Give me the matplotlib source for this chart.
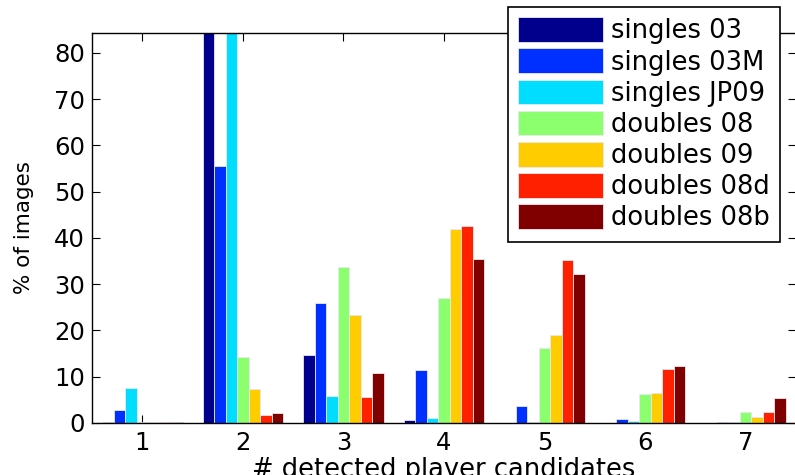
import numpy as np
import matplotlib
matplotlib.use("Agg")
import matplotlib.pyplot as plt

groups = [1, 2, 3, 4, 5, 6, 7]
series_names = ["singles 03", "singles 03M", "singles JP09", "doubles 08",
                "doubles 09", "doubles 08d", "doubles 08b"]
singles_03   = [0.3, 84.5, 14.8, 0.7, 0.1, 0.1, 0.0]
singles_03M  = [2.8, 55.5, 26.0, 11.5, 3.7, 0.9, 0.3]
singles_JP09 = [7.6, 84.5, 5.75, 1.1, 0.3, 0.4, 0.3]
doubles_08   = [0.2, 14.3, 33.8, 27.1, 16.2, 6.2, 2.4]
doubles_09   = [0.2, 7.3, 23.4, 42.0, 19.1, 6.4, 1.4]
doubles_08d  = [0.3, 1.8, 5.7, 42.5, 35.3, 11.7, 2.4]
doubles_08b  = [0.3, 2.1, 10.7, 35.5, 32.1, 12.3, 5.3]
series_values = [singles_03, singles_03M, singles_JP09, doubles_08,
                 doubles_09, doubles_08d, doubles_08b]
colors = ["#00008C", "#0030FF", "#00DDFF", "#8CFF6E", "#FFCC00", "#FF2000", "#800000"]
yticks = [0, 10, 20, 30, 40, 50, 60, 70, 80]

plt.rcParams['font.family'] = ['DejaVu Sans']

fig = plt.figure(figsize=(7.95, 4.75), dpi=100)
ax = fig.add_axes([92/795, 52/475, 704/795, 390/475])

x = np.array(groups, dtype=float)
n = len(series_values)
slot = 0.8 / n
for i, (vals, name, c) in enumerate(zip(series_values, series_names, colors)):
    off = (i - (n - 1) / 2) * slot
    ax.bar(x + off, vals, width=slot, color=c, edgecolor="#e8e8f0",
           linewidth=0.6, label=name, zorder=2)

ax.set_xlim(0.5, 7.5)
ax.set_ylim(0, 84.3)
ax.set_xticks(groups)
ax.set_yticks(yticks)
ax.tick_params(axis='both', which='both', direction='in', length=6, width=0.8,
               top=True, right=True, labelsize=17.5)
ax.tick_params(axis='x', pad=6)
ax.tick_params(axis='y', pad=5)
for s in ax.spines.values():
    s.set_linewidth(1.0)
    s.set_color('black')

ax.set_xlabel("# detected player candidates", fontsize=18.5)
ax.xaxis.set_label_coords(0.5, -0.088)
ax.set_ylabel("% of images", fontsize=15.5)
ax.yaxis.set_label_coords(-0.082, 0.5)

leg = ax.legend(loc='upper right', bbox_to_anchor=(780/795, 1 - 7/475),
                bbox_transform=fig.transFigure, borderaxespad=0,
                fontsize=18.5, frameon=True, fancybox=False, shadow=False,
                framealpha=1.0,
                handlelength=3.3, handleheight=1.1, handletextpad=0.3,
                labelspacing=0.16, borderpad=0.4)
leg.get_frame().set_edgecolor('black')
leg.get_frame().set_linewidth(1.2)
leg.set_zorder(5)

fig.savefig("out.png", dpi=100)
